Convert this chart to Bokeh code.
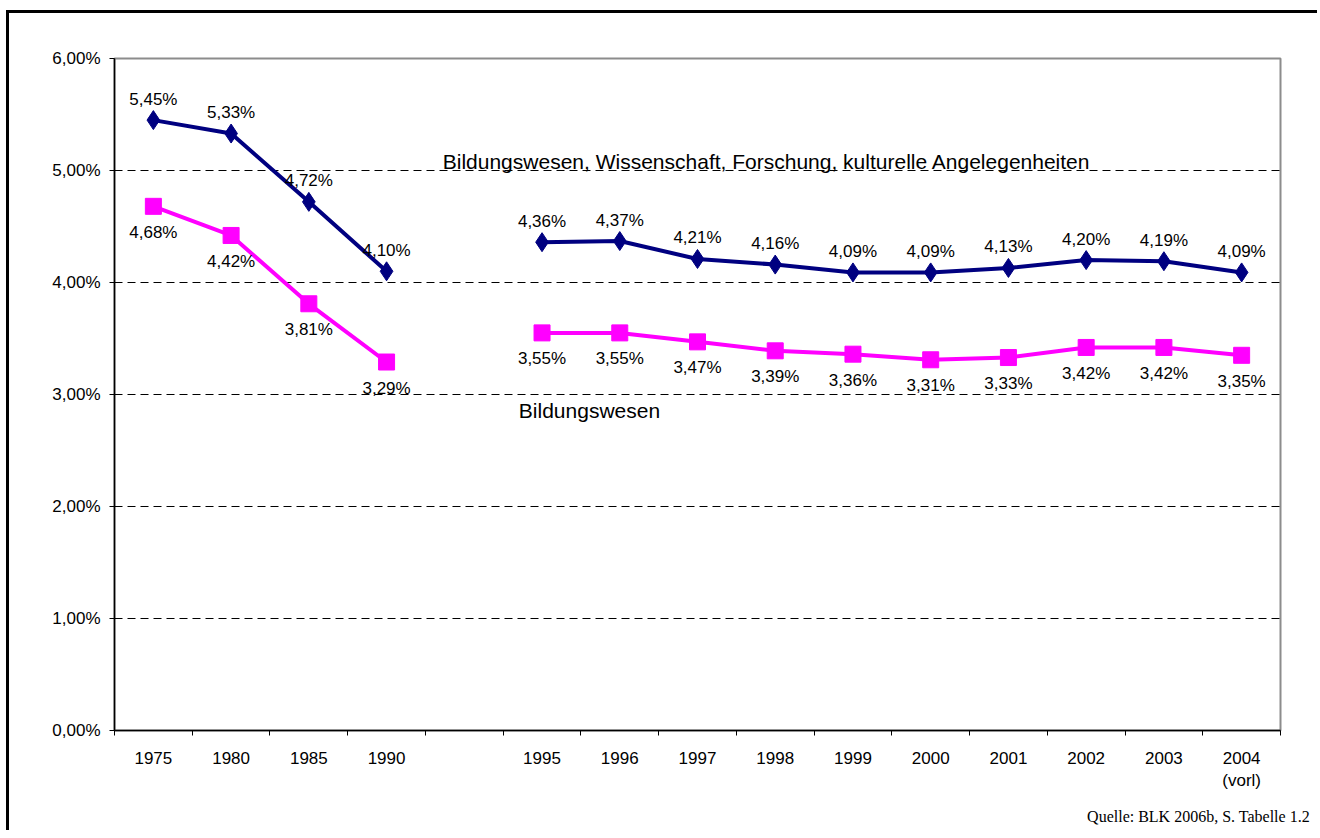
from bokeh.plotting import figure
from bokeh.layouts import column, row
from bokeh.models import ColumnDataSource, FixedTicker, Range1d, LinearAxis, Div, Spacer
from bokeh.core.properties import value
from bokeh.embed import file_html
from bokeh.resources import INLINE

# ---- data ----
slots = ["1975", "1980", "1985", "1990", "", "1995", "1996", "1997", "1998",
         "1999", "2000", "2001", "2002", "2003", "2004\n(vorl)"]
gesamt = [5.45, 5.33, 4.72, 4.10, None, 4.36, 4.37, 4.21, 4.16, 4.09, 4.09,
          4.13, 4.20, 4.19, 4.09]
bildung = [4.68, 4.42, 3.81, 3.29, None, 3.55, 3.55, 3.47, 3.39, 3.36, 3.31,
           3.33, 3.42, 3.42, 3.35]
y_ticks = [0, 1, 2, 3, 4, 5, 6]
y_tick_labels = ["0,00%", "1,00%", "2,00%", "3,00%", "4,00%", "5,00%", "6,00%"]
name_gesamt = "Bildungswesen, Wissenschaft, Forschung, kulturelle Angelegenheiten"
name_bildung = "Bildungswesen"
source_note = "Quelle: BLK 2006b, S. Tabelle 1.2"

FONT = "Liberation Sans"
NAVY = "#000080"
MAGENTA = "#FF00FF"
W, H = 1308, 817

xs = [i + 0.5 for i in range(len(slots))]
bounds = list(range(len(slots) + 1))


def nanify(vals):
    return [float("nan") if v is None else v for v in vals]


def fmt(v):
    return f"{v:.2f}".replace(".", ",") + "%"


p = figure(width=W, height=H, output_backend="svg", toolbar_location=None,
           x_range=Range1d(0, len(slots)), y_range=Range1d(0, 6),
           min_border_left=105, min_border_right=37, min_border_top=45,
           min_border_bottom=100, margin=0)
p.background_fill_color = "white"
p.border_fill_color = "white"
p.outline_line_color = "#8c8c8c"
p.outline_line_width = 2

# grid
p.xgrid.visible = False
p.ygrid.ticker = FixedTicker(ticks=y_ticks[1:-1])
p.ygrid.grid_line_color = "black"
p.ygrid.grid_line_dash = "8 5"
p.ygrid.grid_line_width = 1

# y axis
p.yaxis.ticker = FixedTicker(ticks=y_ticks)
p.yaxis.major_label_overrides = {t: l for t, l in zip(y_ticks, y_tick_labels)}
p.yaxis.axis_line_color = "black"
p.yaxis.axis_line_width = 1.5
p.yaxis.major_tick_in = 0
p.yaxis.major_tick_out = 5
p.yaxis.minor_tick_line_color = None
p.yaxis.major_label_standoff = 9
p.yaxis.major_label_text_font = FONT
p.yaxis.major_label_text_font_size = "17px"
p.yaxis.major_label_text_color = "black"

# x axis: labels at slot centres, tick marks at slot boundaries
p.xaxis.ticker = FixedTicker(ticks=xs, minor_ticks=bounds)
p.xaxis.major_label_overrides = {c: s if s else " " for c, s in zip(xs, slots)}
p.xaxis.axis_line_color = "black"
p.xaxis.axis_line_width = 1.5
p.xaxis.major_tick_line_color = None
p.xaxis.major_tick_in = 0
p.xaxis.major_tick_out = 0
p.xaxis.minor_tick_in = 0
p.xaxis.minor_tick_out = 5
p.xaxis.minor_tick_line_color = "black"
p.xaxis.major_label_standoff = 13
p.xaxis.major_label_text_font = FONT
p.xaxis.major_label_text_font_size = "17px"
p.xaxis.major_label_text_color = "black"

# source note, set as the only label of an extra, line-less axis below
note_x = 14.14
note_axis = LinearAxis(ticker=FixedTicker(ticks=[note_x]),
                       major_label_overrides={note_x: source_note},
                       axis_line_color=None, major_tick_line_color=None,
                       major_tick_in=0, major_tick_out=0,
                       minor_tick_line_color=None, minor_tick_in=0, minor_tick_out=0,
                       major_label_standoff=14,
                       major_label_text_font="Liberation Serif",
                       major_label_text_font_size="16px",
                       major_label_text_color="black")
p.add_layout(note_axis, "below")

# series
g = nanify(gesamt)
b = nanify(bildung)
p.line(xs, b, line_color=MAGENTA, line_width=4)
p.scatter(xs, b, marker="square", size=16, fill_color=MAGENTA, line_color=MAGENTA)
p.line(xs, g, line_color=NAVY, line_width=4)
p.scatter(xs, g, marker="diamond", size=19, fill_color=NAVY, line_color=NAVY)

# data labels
gs = ColumnDataSource(dict(x=[x for x, v in zip(xs, gesamt) if v is not None],
                           y=[v for v in gesamt if v is not None],
                           t=[fmt(v) for v in gesamt if v is not None]))
bs = ColumnDataSource(dict(x=[x for x, v in zip(xs, bildung) if v is not None],
                           y=[v for v in bildung if v is not None],
                           t=[fmt(v) for v in bildung if v is not None]))
p.text("x", "y", text="t", source=gs, text_align="center", text_baseline="middle",
       y_offset=-21, text_font=value(FONT), text_font_size="17px", text_color="black")
p.text("x", "y", text="t", source=bs, text_align="center", text_baseline="middle",
       y_offset=26, text_font=value(FONT), text_font_size="17px", text_color="black")

# series names
p.text(x=[8.39], y=[5.0], text=[name_gesamt], text_align="center",
       text_baseline="alphabetic", y_offset=-9, text_font=value(FONT),
       text_font_size="21px", text_color="black")
p.text(x=[6.11], y=[3.0], text=[name_bildung], text_align="center",
       text_baseline="middle", y_offset=16, text_font=value(FONT),
       text_font_size="21px", text_color="black")

# outer frame of the picture (only its left and top edges are visible)
top_bar = Div(text="", width=W + 3, height=3, margin=0,
              styles={"background-color": "black"})
left_bar = Div(text="", width=3, height=H, margin=0,
               styles={"background-color": "black"})
inner = column(top_bar, row(left_bar, p, spacing=0, margin=0), spacing=0, margin=0)
layout = row(Spacer(width=6, height=10, margin=0),
             column(Spacer(width=10, height=10, margin=0), inner, spacing=0, margin=0),
             spacing=0, margin=0)

open("out.html", "w").write(file_html(layout, INLINE))
